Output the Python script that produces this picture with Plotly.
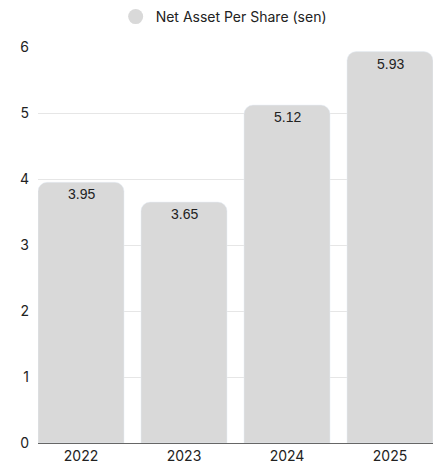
import plotly.graph_objects as go

years = ["2022", "2023", "2024", "2025"]
nav_per_share = [3.95, 3.65, 5.12, 5.93]
series_name = "Net Asset Per Share (sen)"

BAR = "#d9d9d9"
GAP = 0.165

fig = go.Figure()
fig.add_trace(go.Bar(
    x=years,
    y=nav_per_share,
    marker={"color": BAR, "cornerradius": 9},
    showlegend=False,
))
# value labels just under each bar top (category axis -> position by index)
for i, val in enumerate(nav_per_share):
    fig.add_annotation(
        x=i, y=val, xref="x", yref="y", text=f"{val:.2f}", showarrow=False,
        yanchor="middle", yshift=-12,
        font={"family": "Liberation Sans, Arial", "size": 14, "color": "#222222"},
    )
# legend entry with round marker
fig.add_trace(go.Scatter(
    x=[None], y=[None], mode="markers", name=series_name,
    marker={"color": BAR, "size": 15, "symbol": "circle"},
))
fig.update_layout(
    width=435,
    height=467,
    margin={"l": 38, "r": 2, "t": 46, "b": 24},
    paper_bgcolor="white",
    plot_bgcolor="white",
    font={"family": "Inter, Roboto, sans-serif", "size": 14, "color": "#222222"},
    bargap=GAP,
    legend={"orientation": "h", "x": 0.47, "xanchor": "center", "y": 1.073, "yanchor": "middle",
            "font": {"size": 14}, "itemwidth": 30},
)
fig.update_xaxes(type="category", showgrid=False, showline=True, linecolor="#666666",
                 linewidth=1, ticks="",
                 range=[-0.5 + GAP / 2, len(years) - 0.5 - GAP / 2])
fig.update_yaxes(range=[0, 6], dtick=1, gridcolor="#e6e6e6", zeroline=False, ticks="",
                 ticklabelstandoff=8)
fig.write_html("out.html", config={"displayModeBar": False},
               post_script="document.body.style.margin='0';")
